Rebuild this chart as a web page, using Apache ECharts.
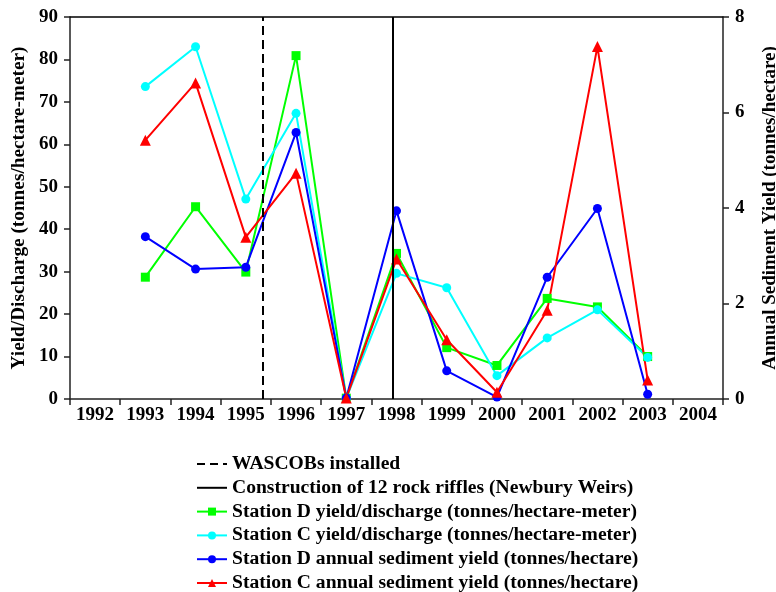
<!DOCTYPE html>
<html>
<head>
<meta charset="utf-8">
<script src="https://cdn.jsdelivr.net/npm/echarts@6/dist/echarts.min.js"></script>
<style>
  html, body { margin: 0; padding: 0; background: #fff; }
  #chart { width: 776px; height: 592px; }
</style>
</head>
<body>
<div id="chart"></div>
<script>
// categories (years)
var years = ['1992', '1993', '1994', '1995', '1996', '1997', '1998', '1999', '2000', '2001', '2002', '2003', '2004'];

// yield/discharge, tonnes/hectare-meter (left axis)
var stationDYield = [null, 28.7, 45.3, 29.9, 80.9, 0.2, 34.3, 12.1, 7.9, 23.7, 21.7, 10.0, null];
var stationCYield = [null, 73.6, 83.0, 47.1, 67.3, 0.2, 29.6, 26.2, 5.5, 14.4, 21.0, 9.8, null];

// annual sediment yield, tonnes/hectare (right axis)
var stationDSed = [null, 3.40, 2.72, 2.76, 5.58, 0.02, 3.94, 0.59, 0.04, 2.55, 3.99, 0.10, null];
var stationCSed = [null, 5.42, 6.62, 3.39, 4.73, 0.02, 2.93, 1.24, 0.14, 1.86, 7.38, 0.40, null];

// event positions (category index units)
var wascobPos = 3.33;
var rifflePos = 5.93;

var font = 'Liberation Serif, Times New Roman, serif';
var axisColor = '#222';

var chart = echarts.init(document.getElementById('chart'));

function lineSeries(name, data, color, symbol, size, yIdx) {
    return {
        name: name,
        type: 'line',
        data: data,
        yAxisIndex: yIdx,
        symbol: symbol,
        symbolSize: size,
        showAllSymbol: true,
        connectNulls: false,
        lineStyle: { color: color, width: 2 },
        itemStyle: { color: color },
        z: 3
    };
}

var noMarker = { color: 'transparent', borderWidth: 0 };

var option = {
    animation: false,
    backgroundColor: '#fff',
    grid: { left: 70, right: 53, top: 17, bottom: 193, containLabel: false, outerBoundsMode: 'none' },
    legend: {
        orient: 'vertical',
        left: 191,
        top: 449,
        height: 143,
        itemWidth: 30,
        itemHeight: 10,
        itemGap: 3.8,
        textStyle: { fontFamily: font, fontSize: 19.6, fontWeight: 'bold', color: '#000' },
        data: [
            { name: 'WASCOBs installed', itemStyle: noMarker },
            { name: 'Construction of 12 rock riffles (Newbury Weirs)', itemStyle: noMarker },
            'Station D yield/discharge (tonnes/hectare-meter)',
            'Station C yield/discharge (tonnes/hectare-meter)',
            'Station D annual sediment yield (tonnes/hectare)',
            'Station C annual sediment yield (tonnes/hectare)'
        ]
    },
    xAxis: [
        {
            type: 'category',
            data: years,
            boundaryGap: true,
            axisLine: { lineStyle: { color: axisColor, width: 1.5 } },
            axisTick: { show: true, length: 6, inside: false, alignWithLabel: false, lineStyle: { color: axisColor, width: 1.5 } },
            axisLabel: { fontFamily: font, fontSize: 19, fontWeight: 'bold', color: '#000', margin: 7, interval: 0 },
            splitLine: { show: false }
        },
        {
            // hidden value axis used to place the event lines; also draws the top frame
            type: 'value',
            position: 'top',
            min: -0.5,
            max: 12.5,
            axisLine: { show: true, onZero: false, lineStyle: { color: '#000', width: 1.5 } },
            axisTick: { show: false },
            axisLabel: { show: false },
            splitLine: { show: false }
        }
    ],
    yAxis: [
        {
            type: 'value',
            min: 0,
            max: 90,
            interval: 10,
            name: 'Yield/Discharge (tonnes/hectare-meter)',
            nameLocation: 'middle',
            nameGap: 38,
            nameTextStyle: { fontFamily: font, fontSize: 19.3, fontWeight: 'bold', color: '#000' },
            axisLine: { show: true, onZero: false, lineStyle: { color: axisColor, width: 1.5 } },
            axisTick: { show: true, length: 6, lineStyle: { color: axisColor, width: 1.5 } },
            axisLabel: { fontFamily: font, fontSize: 19, fontWeight: 'bold', color: '#000', margin: 12 },
            splitLine: { show: false }
        },
        {
            type: 'value',
            min: 0,
            max: 8,
            interval: 2,
            position: 'right',
            name: 'Annual Sediment Yield (tonnes/hectare)',
            nameLocation: 'middle',
            nameGap: 38,
            nameRotate: 90,
            nameTextStyle: { fontFamily: font, fontSize: 19, fontWeight: 'bold', color: '#000' },
            axisLine: { show: true, onZero: false, lineStyle: { color: axisColor, width: 1.5 } },
            axisTick: { show: true, length: 6, lineStyle: { color: axisColor, width: 1.5 } },
            axisLabel: { fontFamily: font, fontSize: 19, fontWeight: 'bold', color: '#000', margin: 12 },
            splitLine: { show: false }
        }
    ],
    series: [
        {
            name: 'WASCOBs installed',
            type: 'line',
            xAxisIndex: 1,
            yAxisIndex: 0,
            data: [],
            symbol: 'none',
            lineStyle: { color: '#000', width: 2, type: [8, 5] },
            itemStyle: { color: '#000' },
            markLine: {
                silent: true,
                symbol: 'none',
                label: { show: false },
                lineStyle: { color: '#000', width: 2, type: [9, 5] },
                data: [{ xAxis: wascobPos }]
            }
        },
        {
            name: 'Construction of 12 rock riffles (Newbury Weirs)',
            type: 'line',
            xAxisIndex: 1,
            yAxisIndex: 0,
            data: [],
            symbol: 'none',
            lineStyle: { color: '#000', width: 2, type: 'solid' },
            itemStyle: { color: '#000' },
            markLine: {
                silent: true,
                symbol: 'none',
                label: { show: false },
                lineStyle: { color: '#000', width: 2, type: 'solid' },
                data: [{ xAxis: rifflePos }]
            }
        },
        lineSeries('Station D yield/discharge (tonnes/hectare-meter)', stationDYield, '#00ff00', 'rect', 9, 0),
        lineSeries('Station C yield/discharge (tonnes/hectare-meter)', stationCYield, '#00ffff', 'circle', 9, 0),
        lineSeries('Station D annual sediment yield (tonnes/hectare)', stationDSed, '#0000ff', 'circle', 9, 1),
        lineSeries('Station C annual sediment yield (tonnes/hectare)', stationCSed, '#ff0000', 'triangle', 11, 1)
    ]
};

chart.setOption(option);
</script>
</body>
</html>
